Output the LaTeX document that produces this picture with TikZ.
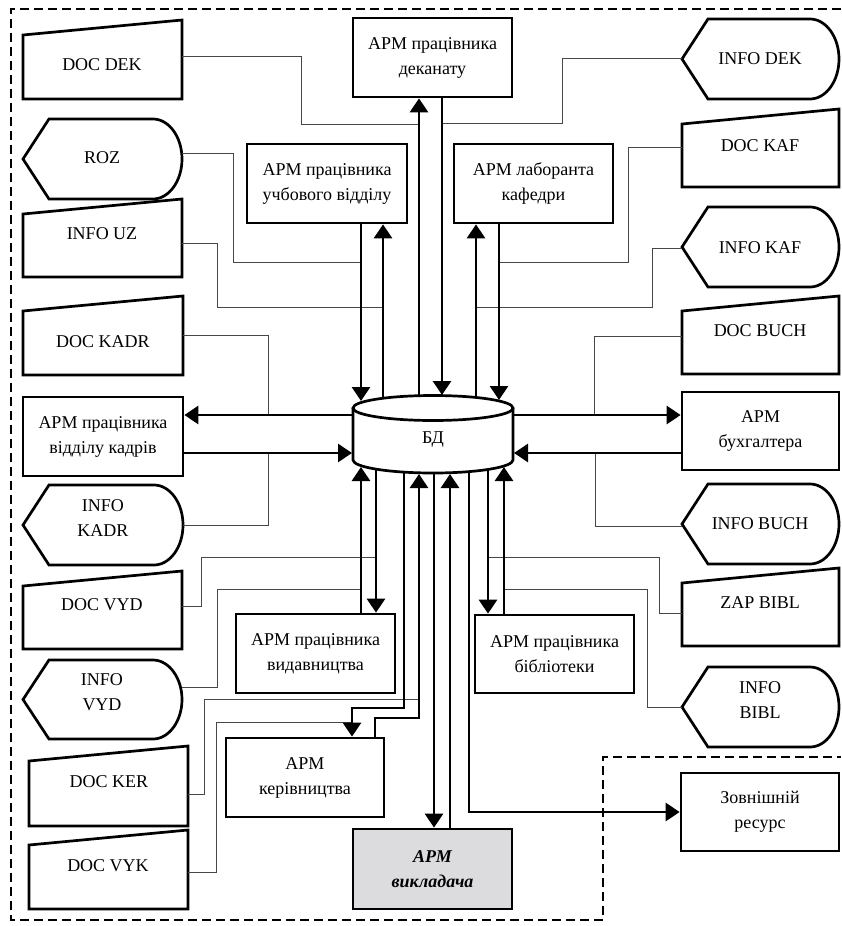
\documentclass[tikz,border=0pt]{standalone}
\usepackage{fontspec}
\setmainfont{Liberation Serif}
\usetikzlibrary{arrows.meta,fit}
\definecolor{vgray}{HTML}{DCDCDE}
\newcommand\lblfont{\fontsize{18}{25}\selectfont}
% trapezoid (manual input): name, L, R, top-right y, bottom y, text, tx, ty
\newcommand\doctrap[8]{%
  \draw[shp] (#2,#4+15) -- (#3,#4) -- (#3,#5) -- (#2,#5) -- cycle;
  \node[hid={(#2,#4) (#3,#5)}] (#1) {};
  \node[lbl] (#1t) at (#7,#8) {#6};
}
% display shape: name, L, R, top y, bottom y, text, tx, ty
\newcommand\dispshape[8]{%
  \draw[shp] (#2,{(#4+#5)/2}) -- (#2+26,#4) -- (#3-29,#4)
    .. controls (#3-13,#4) and (#3,{#4+18}) .. (#3,{(#4+#5)/2})
    .. controls (#3,{#5-18}) and (#3-13,#5) .. (#3-29,#5)
    -- (#2+26,#5) -- cycle;
  \node[hid={(#2,#4) (#3,#5)}] (#1) {};
  \node[lbl] (#1t) at (#7,#8) {#6};
}
\begin{document}
\begin{tikzpicture}[x=1pt,y=-1pt,
  shp/.style={draw=black,line width=2.7pt,line join=miter},
  lbl/.style={inner sep=0pt,align=center,font=\lblfont},
  rbox/.style={shp,lbl,minimum width=159pt,minimum height=79pt},
  hid/.style={inner sep=0pt,fit={#1}},
  wire/.style={draw=black!72,line width=1pt},
  arr/.style={line width=2.7pt,line join=miter,-{Triangle[width=18pt,length=14pt]}},
  border/.style={line width=2.6pt,dash pattern=on 9pt off 5pt}
]
\useasboundingbox (0,0) rectangle (841,926);

% dashed boundary
\draw[border] (841,9) -- (11,9) -- (11,920) -- (603,920) -- (603,757) -- (841,757);

% rectangles
\node[rbox] (dek) at (432.5,57.5) {АРМ працівника\\деканату};
\node[rbox,minimum width=160pt] (uch) at (327,183.5) {АРМ працівника\\учбового відділу};
\node[rbox] (kaf) at (533.5,183.5) {АРМ лаборанта\\кафедри};
\node[rbox,minimum width=160pt] (kadr) at (103,436.5) {АРМ працівника\\відділу кадрів};
\node[rbox,minimum width=157pt,minimum height=78pt] (buch) at (760.5,431) {АРМ\\бухгалтера};
\node[rbox] (vyd) at (315.5,653.5) {АРМ працівника\\видавництва};
\node[rbox,minimum height=78pt] (bibl) at (554.5,654) {АРМ працівника\\бібліотеки};
\node[rbox,minimum width=158pt] (ker) at (305,777.5) {АРМ\\керівництва};
\node[rbox,fill=vgray,minimum height=80pt,font=\lblfont\bfseries\itshape] (vykl) at (432.5,869) {АРМ\\викладача};
\node[rbox,minimum width=158pt,minimum height=78pt] (zovn) at (760,812) {Зовнішній\\ресурс};

% database cylinder
\draw[shp,fill=white] (353,408) -- (353,460) .. controls (353,467.2) and (388.8,473) .. (433,473)
   .. controls (477.2,473) and (513,467.2) .. (513,460) -- (513,408);
\draw[shp] (433,408) ellipse [x radius=80pt, y radius=12.5pt];
\node[lbl] (db) at (433,440) {БД};

% documents (left)
\doctrap{docdek}{23}{182}{20}{99}{DOC DEK}{102}{65}
\doctrap{infouz}{23}{182}{199}{277}{INFO UZ}{102}{234}
\doctrap{dockadr}{23}{183}{296}{375}{DOC KADR}{103}{342}
\doctrap{docvyd}{23}{182}{571}{649}{DOC VYD}{102}{605}
\doctrap{docker}{29}{188}{746}{826}{DOC KER}{109}{782}
\doctrap{docvyk}{29}{188}{830}{909}{DOC VYK}{108}{866}
% documents (right)
\doctrap{dockaf}{682}{839}{109}{187}{DOC KAF}{760}{146}
\doctrap{docbuch}{682}{839}{296}{374}{DOC BUCH}{760}{331}
\doctrap{zapbibl}{682}{839}{568}{646}{ZAP BIBL}{760}{603}

% displays (left)
\dispshape{roz}{23}{182}{119}{199}{ROZ}{102}{158}
\dispshape{infokadr}{23}{183}{485}{565}{INFO\\KADR}{103}{518}
\dispshape{infovyd}{23}{182}{660}{739}{INFO\\VYD}{102}{692}
% displays (right)
\dispshape{infodek}{682}{839}{19}{99}{INFO DEK}{760}{59}
\dispshape{infokaf}{682}{839}{207}{287}{INFO KAF}{760}{248}
\dispshape{infobuch}{682}{839}{484}{564}{INFO BUCH}{760}{524}
\dispshape{infobibl}{682}{839}{667}{747}{INFO\\BIBL}{760}{700}

% connection points on the database
\coordinate (dbt-a) at (361,401);
\coordinate (dbt-b) at (383,398);
\coordinate (dbt-c) at (419,396);
\coordinate (dbt-d) at (442,395);
\coordinate (dbt-e) at (476,397);
\coordinate (dbt-f) at (499,400);
\coordinate (dbl-a) at (352,415);
\coordinate (dbl-b) at (352,453);
\coordinate (dbr-a) at (514,415);
\coordinate (dbr-b) at (514,453);
\coordinate (dbb-a) at (361,467);
\coordinate (dbb-b) at (376,469);
\coordinate (dbb-c) at (404,472);
\coordinate (dbb-d) at (419,474);
\coordinate (dbb-e) at (434,473);
\coordinate (dbb-f) at (450,474);
\coordinate (dbb-g) at (469,472);
\coordinate (dbb-h) at (488,469);
\coordinate (dbb-i) at (504,467);

% thin wires
\draw[wire] (docdek.east |- 0,56) -| (301,124) -- (dbt-c |- 0,124);
\draw[wire] (infodek.west |- 0,58) -| (562,123) -- (dbt-d |- 0,123);
\draw[wire] (roz.east |- 0,153) -| (233,262) -- (dbt-a |- 0,262);
\draw[wire] (infouz.east |- 0,243) -| (217,307) -- (dbt-b |- 0,307);
\draw[wire] (dockaf.west |- 0,147) -| (628,262) -- (dbt-f |- 0,262);
\draw[wire] (infokaf.west |- 0,248) -| (652,307) -- (dbt-e |- 0,307);
\draw[wire] (dockadr.east |- 0,335) -| (268,415);
\draw[wire] (infokadr.east |- 0,525) -| (268,453);
\draw[wire] (docbuch.west |- 0,336) -| (594,415);
\draw[wire] (infobuch.west |- 0,526) -| (595,453);
\draw[wire] (docvyd.east |- 0,606) -| (201,557) -- (dbb-b |- 0,557);
\draw[wire] (infovyd.east |- 0,687) -| (217,589) -- (dbb-a |- 0,589);
\draw[wire] (docker.east |- 0,794) -| (204,699) -- (dbb-d |- 0,699);
\draw[wire] (docvyk.east |- 0,872) -| (216,722) -- (352,722);
\draw[wire] (zapbibl.west |- 0,613) -| (659,557) -- (dbb-h |- 0,557);
\draw[wire] (infobibl.west |- 0,707) -| (647,589) -- (dbb-i |- 0,589);

% thick arrows, top
\draw[arr] (uch.south -| dbt-a) -- (dbt-a);
\draw[arr] (dbt-b) -- (uch.south -| dbt-b);
\draw[arr] (dbt-c) -- (dek.south -| dbt-c);
\draw[arr] (dek.south -| dbt-d) -- (dbt-d);
\draw[arr] (dbt-e) -- (kaf.south -| dbt-e);
\draw[arr] (kaf.south -| dbt-f) -- (dbt-f);
% sides
\draw[arr] (dbl-a) -- (kadr.east |- dbl-a);
\draw[arr] (kadr.east |- dbl-b) -- (dbl-b);
\draw[arr] (dbr-a) -- (buch.west |- dbr-a);
\draw[arr] (buch.west |- dbr-b) -- (dbr-b);
% bottom
\draw[arr] (vyd.north -| dbb-a) -- (dbb-a);
\draw[arr] (dbb-b) -- (vyd.north -| dbb-b);
\draw[arr] (dbb-c) -- (404,708) -- (352,708) -- (ker.north -| 352,0);
\draw[arr] (ker.north -| 375,0) -- (375,718) -- (419,718) -- (dbb-d);
\draw[arr] (dbb-e) -- (vykl.north -| dbb-e);
\draw[arr] (vykl.north -| dbb-f) -- (dbb-f);
\draw[arr] (dbb-g) |- (zovn.west |- 0,812);
\draw[arr] (dbb-h) -- (bibl.north -| dbb-h);
\draw[arr] (bibl.north -| dbb-i) -- (dbb-i);
\end{tikzpicture}
\end{document}
